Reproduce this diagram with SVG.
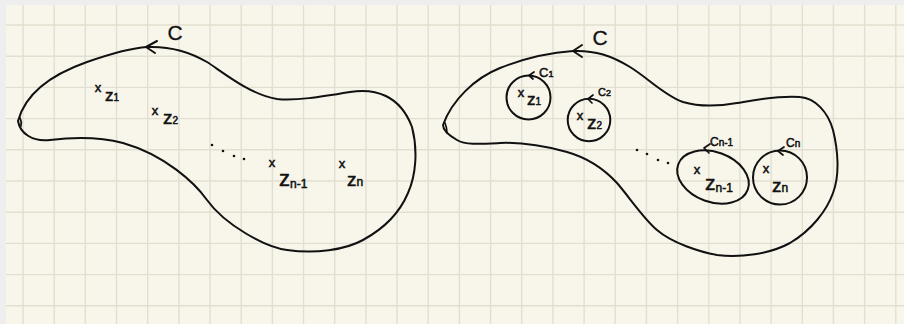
<svg xmlns="http://www.w3.org/2000/svg" width="904" height="324" viewBox="0 0 904 324">
<style>
.bg{fill:#f8f6eb}
.band{fill:#eeeeee}
.grid{stroke:#e2dfd1;stroke-width:1.4;fill:none}
.ink{stroke:#111;stroke-width:2;fill:none;stroke-linecap:round;stroke-linejoin:round}
.thin{stroke:#111;stroke-width:1.7;fill:none;stroke-linecap:round;stroke-linejoin:round}
.dot{fill:#111}
text{font-family:"Liberation Sans",Arial,sans-serif;fill:#111;stroke:#111;stroke-width:0.5}
.mk{font-size:13px;text-anchor:middle}
.big{font-size:21px;stroke-width:0.3}
</style>
<rect class="bg" x="0" y="0" width="904" height="324"/>
<path class="grid" d="M23,5V324M54.2,5V324M85.3,5V324M116.5,5V324M147.7,5V324M178.9,5V324M210,5V324M241.2,5V324M272.4,5V324M303.5,5V324M334.7,5V324M365.9,5V324M397,5V324M428.2,5V324M459.4,5V324M490.6,5V324M521.7,5V324M552.9,5V324M584.1,5V324M615.2,5V324M646.4,5V324M677.6,5V324M708.8,5V324M739.9,5V324M771.1,5V324M802.3,5V324M833.4,5V324M864.6,5V324M895.8,5V324M6,25H904M6,56.2H904M6,87.4H904M6,118.6H904M6,149.8H904M6,181H904M6,212.2H904M6,243.4H904M6,274.6H904M6,305.8H904"/>
<rect class="band" x="0" y="0" width="904" height="5"/>
<rect class="band" x="0" y="0" width="6" height="324"/>

<g id="left-contour-C">
<path class="ink" d="M18,121 C25,95 50,75 87,62 C110,54 130,48 147,47 C170,46 190,52 207,62 C220,70 250,95 277,99 C295,101 320,97 350,92 C375,88 400,95 412,127 C418,150 416,175 408,193 C400,212 385,228 363,240 C345,250 315,254 287,250 C265,247 225,225 207,200 C195,183 165,155 123,143 C100,137 75,137 50,140 C32,142 20,133 18,121"/>
<path class="thin" d="M20,118 Q22,122 21,126"/>
<path class="ink" d="M157,41 L146,47 L155,53"/>
<text class="big" x="175" y="40" text-anchor="middle">C</text>
</g>

<g id="left-z1">
<text class="mk" x="98" y="92">x</text>
<text x="105" y="101" font-size="17">z<tspan font-size="10">1</tspan></text>
</g>
<g id="left-z2">
<text class="mk" x="155" y="115">x</text>
<text x="163" y="124" font-size="19">z<tspan font-size="10">2</tspan></text>
</g>
<g id="left-dots">
<circle class="dot" cx="212" cy="145" r="1.3"/>
<circle class="dot" cx="223" cy="151" r="1.3"/>
<circle class="dot" cx="234" cy="156" r="1.3"/>
<circle class="dot" cx="244" cy="159" r="1.3"/>
</g>
<g id="left-zn-1">
<text class="mk" x="272" y="167">x</text>
<text x="279" y="186" font-size="22">z<tspan font-size="12" dy="2">n-1</tspan></text>
</g>
<g id="left-zn">
<text class="mk" x="342" y="168">x</text>
<text x="347" y="186" font-size="19">z<tspan font-size="12">n</tspan></text>
</g>

<g id="right-contour-C">
<path class="ink" d="M443,125 C452,100 475,78 500,68 C520,60 545,53 573,51 C595,50 612,56 630,67 C648,78 665,96 683,102 C700,107 720,106 737,103 C755,100 780,95 800,97 C815,98 828,112 833,130 C838,150 840,175 833,193 C827,210 812,230 790,243 C770,254 740,258 717,255 C700,252 672,243 657,230 C643,218 630,198 617,183 C605,170 588,158 567,152 C545,146 522,142 500,143 C480,144 465,145 457,140 C450,136 443,130 443,125"/>
<path class="thin" d="M445,123 Q447,128 447,133"/>
<path class="ink" d="M582,45 L573,51 L582,57"/>
<text class="big" x="600" y="45" text-anchor="middle">C</text>
</g>

<g id="circle-C1">
<circle class="ink" cx="528.5" cy="97.5" r="22"/>
<path class="thin" d="M534,72 L529,75.5 L533,79"/>
<text x="539" y="77" font-size="13">C<tspan font-size="9">1</tspan></text>
<text class="mk" x="521" y="97">x</text>
<text x="527" y="105" font-size="17">z<tspan font-size="10">1</tspan></text>
</g>
<g id="circle-C2">
<circle class="ink" cx="589" cy="120" r="21.3"/>
<path class="thin" d="M593,95 L588,99 L592,103"/>
<text x="598" y="96" font-size="11">C<tspan font-size="9">2</tspan></text>
<text class="mk" x="580" y="120">x</text>
<text x="587" y="129" font-size="19">z<tspan font-size="10">2</tspan></text>
</g>
<g id="right-dots">
<circle class="dot" cx="637" cy="150" r="1.3"/>
<circle class="dot" cx="647" cy="154" r="1.3"/>
<circle class="dot" cx="658" cy="160" r="1.3"/>
<circle class="dot" cx="668" cy="163" r="1.3"/>
</g>
<g id="circle-Cn-1">
<ellipse class="ink" cx="713" cy="177" rx="37" ry="25" transform="rotate(20 713 177)"/>
<path class="thin" d="M710,144 L704,148 L709,153"/>
<text x="710" y="146" font-size="12">C<tspan font-size="10">n-1</tspan></text>
<text class="mk" x="697" y="174">x</text>
<text x="705" y="190" font-size="21">z<tspan font-size="12" dy="2">n-1</tspan></text>
</g>
<g id="circle-Cn">
<circle class="ink" cx="780" cy="177.5" r="27"/>
<path class="thin" d="M784,147 L778,151 L783,155"/>
<text x="786" y="147" font-size="12">C<tspan font-size="10">n</tspan></text>
<text class="mk" x="766" y="173">x</text>
<text x="772" y="192" font-size="19">z<tspan font-size="12">n</tspan></text>
</g>
</svg>
